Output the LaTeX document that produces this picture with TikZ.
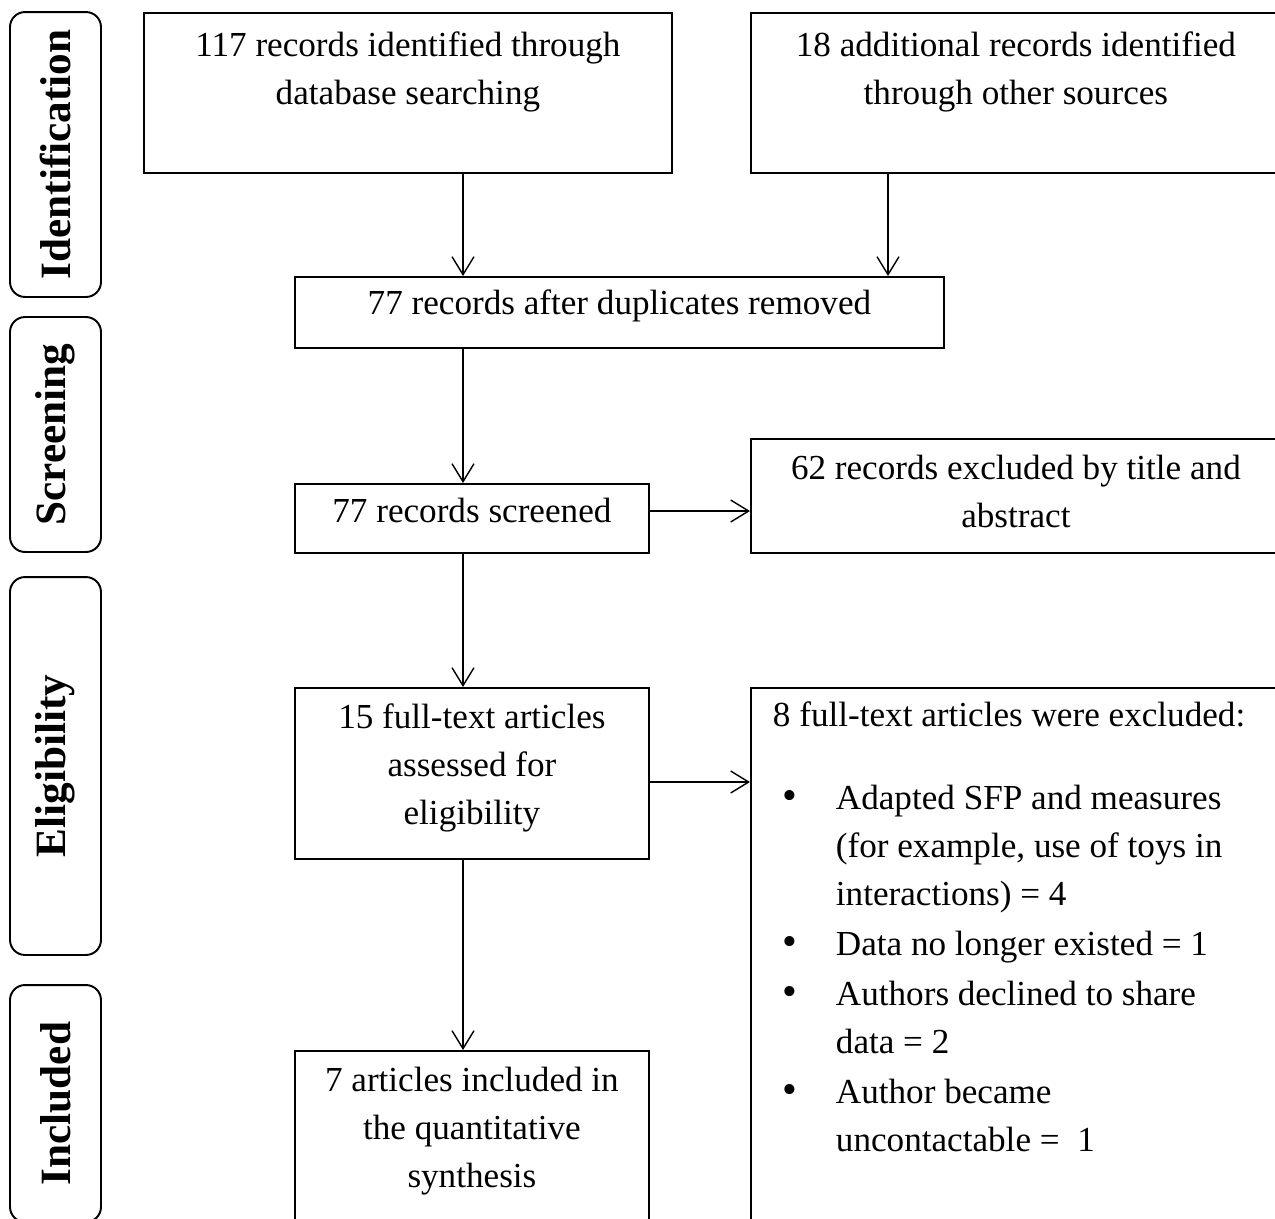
\documentclass[tikz,border=0pt]{standalone}
\usepackage{fontspec}
\setmainfont{Liberation Serif}
\usepackage{tikz}
\usetikzlibrary{arrows.meta,calc,positioning}

% box text: width, height, gap above first line, text
\newcommand{\boxtext}[4]{\parbox[c][#2][t]{#1}{\centering\vspace*{#3}#4}}
\newcommand{\exitem}[1]{\par\vspace{1.2pt}\hangindent=1.7cm\hangafter=1\noindent\hspace*{0.64cm}\makebox[1.06cm][l]{\fontsize{24}{24}\selectfont\textbullet}#1}

\begin{document}
\begin{tikzpicture}[x=0.02cm,y=-0.02cm,
	>={Straight Barb[length=3.6mm,width=4.4mm]},
	stagebox/.style={draw,line width=1.1pt,inner sep=0pt,anchor=north west,font=\fontsize{20}{27.3}\selectfont},
	phase/.style={draw,line width=1.1pt,rounded corners=0.3cm,rotate=90,minimum height=1.82cm,inner sep=0pt,font=\fontsize{24.6}{30}\selectfont\bfseries},
	link/.style={->,line width=0.8pt}]
	\useasboundingbox (0,0) rectangle (1275,1218);
	\clip (0,0) rectangle (1275,1218);
	% phases
	\node[phase,minimum width=5.7cm]	(ident)	at (55.5,154.5)	{Identification};
	\node[phase,minimum width=4.7cm]	(screen)	at (55.5,434.5)	{Screening};
	\node[phase,minimum width=7.56cm]	(elig)	at (55.5,766)	{Eligibility};
	\node[phase,minimum width=4.74cm]	(incl)	at (55.5,1103.5)	{Included};
	% boxes
	\node[stagebox] (db)	at (143,12)	{\boxtext{10.56cm}{3.2cm}{10.8pt}{117 records identified through\\ database searching}};
	\node[stagebox] (other)	at (750,12)	{\boxtext{10.6cm}{3.2cm}{10.8pt}{18 additional records identified\\ through other sources}};
	\node[stagebox] (dupl)	at (294,276)	{\boxtext{12.98cm}{1.42cm}{7.4pt}{77 records after duplicates removed}};
	\node[stagebox] (scr)	at (294,483)	{\boxtext{7.08cm}{1.38cm}{7.9pt}{77 records screened}};
	\node[stagebox] (excl)	at (750,438)	{\boxtext{10.6cm}{2.28cm}{9pt}{62 records excluded by title and\\ abstract}};
	\node[stagebox] (full)	at (294,687)	{\boxtext{7.08cm}{3.42cm}{9pt}{15 full-text articles\\ assessed for\\ eligibility}};
	\node[stagebox] (fullex)	at (750,687)	{\parbox[c][11.2cm][t]{10.6cm}{\raggedright\vspace*{7.9pt}\hspace*{0.44cm}8 full-text articles were excluded:\par\vspace{18.7pt}
		\exitem{Adapted SFP and measures\newline (for example, use of toys in\newline interactions) = 4}
		\exitem{Data no longer existed = 1}
		\exitem{Authors declined to share\newline data = 2}
		\exitem{Author became\newline uncontactable =~ 1}}};
	\node[stagebox] (synth)	at (294,1050)	{\boxtext{7.08cm}{4cm}{9pt}{7 articles included in\\ the quantitative\\ synthesis}};
	% connectors
	\coordinate (lane) at (463,0);
	\coordinate (lane2) at (888,0);
	\coordinate (row) at (0,511);
	\coordinate (row2) at (0,782);
	\draw[link] (db.south -| lane) -- (dupl.north -| lane);
	\draw[link] (other.south -| lane2) -- (dupl.north -| lane2);
	\draw[link] (dupl.south -| lane) -- (scr.north -| lane);
	\draw[link] (scr.south -| lane) -- (full.north -| lane);
	\draw[link] (full.south -| lane) -- (synth.north -| lane);
	\draw[link] (scr.east |- row) -- (excl.west |- row);
	\draw[link] (full.east |- row2) -- (fullex.west |- row2);
\end{tikzpicture}
\end{document}
